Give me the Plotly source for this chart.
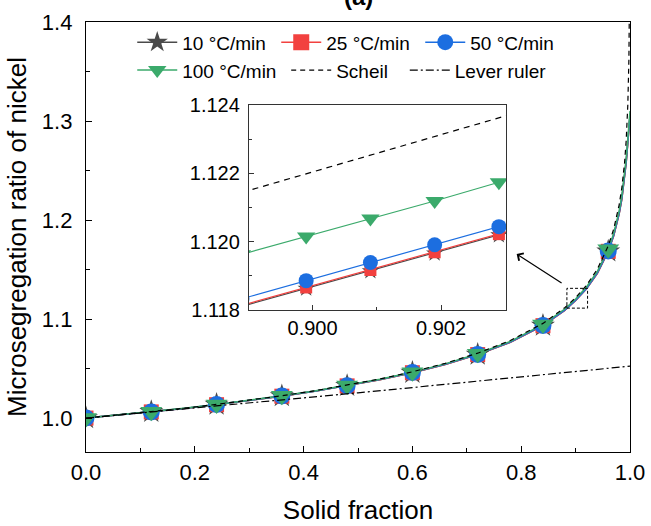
import plotly.graph_objects as go

# ---------------- data ----------------
fs_main = [0.0, 0.06, 0.12, 0.18, 0.24, 0.30, 0.36, 0.42, 0.48, 0.54, 0.60, 0.66,
           0.72, 0.78, 0.84, 0.88, 0.90, 0.92, 0.94, 0.96, 0.97, 0.98, 0.985,
           0.99, 0.993, 0.996, 0.998, 1.0]
r_10 = [1.0, 1.0030, 1.0062, 1.0097, 1.0135, 1.0176, 1.0221, 1.0270, 1.0325, 1.0387,
        1.0458, 1.0541, 1.0641, 1.0765, 1.0933, 1.1087, 1.1187, 1.1306, 1.1462,
        1.1683, 1.1840, 1.2060, 1.2210, 1.2420, 1.2580, 1.2780, 1.2920, 1.3050]
r_25 = [1.0, 1.0030, 1.0062, 1.0097, 1.0135, 1.0176, 1.0221, 1.0270, 1.0325, 1.0387,
        1.0458, 1.0541, 1.0641, 1.0765, 1.0933, 1.1087, 1.1187, 1.1306, 1.1462,
        1.1684, 1.1841, 1.2062, 1.2212, 1.2422, 1.2582, 1.2782, 1.2922, 1.3052]
r_50 = [1.0, 1.0030, 1.0062, 1.0097, 1.0136, 1.0177, 1.0222, 1.0271, 1.0326, 1.0388,
        1.0459, 1.0542, 1.0643, 1.0767, 1.0935, 1.1089, 1.1189, 1.1309, 1.1466,
        1.1688, 1.1846, 1.2068, 1.2220, 1.2430, 1.2590, 1.2790, 1.2930, 1.3060]
r_100 = [1.0, 1.0031, 1.0063, 1.0098, 1.0137, 1.0178, 1.0224, 1.0273, 1.0329, 1.0391,
         1.0463, 1.0547, 1.0649, 1.0775, 1.0946, 1.1101, 1.1202, 1.1323, 1.1482,
         1.1705, 1.1865, 1.2090, 1.2245, 1.2460, 1.2620, 1.2820, 1.2960, 1.3100]
fs_marks = [0.0, 0.12, 0.24, 0.36, 0.48, 0.60, 0.72, 0.84, 0.96]

fs_scheil = [0.0, 0.06, 0.12, 0.18, 0.24, 0.30, 0.36, 0.42, 0.48, 0.54, 0.60, 0.66,
             0.72, 0.78, 0.84, 0.88, 0.90, 0.92, 0.94, 0.96, 0.97, 0.98, 0.985,
             0.99, 0.993, 0.996, 0.998, 0.999, 0.9995]
r_scheil = [1.0, 1.0031, 1.0064, 1.0099, 1.0138, 1.0179, 1.0225, 1.0275, 1.0331, 1.0394,
            1.0467, 1.0552, 1.0655, 1.0783, 1.0956, 1.1114, 1.1215, 1.1340, 1.1504,
            1.1739, 1.1908, 1.2151, 1.2326, 1.2578, 1.2803, 1.3165, 1.3627, 1.4106, 1.4600]

fs_lever = [0.0, 0.1, 0.2, 0.3, 0.4, 0.5, 0.6, 0.7, 0.8, 0.9, 1.0]
r_lever = [1.0, 1.0050, 1.0101, 1.0152, 1.0203, 1.0255, 1.0308, 1.0361, 1.0415, 1.0469, 1.0524]

# inset (zoom near fs = 0.9)
fs_inset = [0.8989, 0.8999, 0.9009, 0.9019, 0.9029, 0.9039]
i_10 = [1.11811, 1.11863, 1.11914, 1.11966, 1.12019, 1.12072]
i_25 = [1.11814, 1.11866, 1.11917, 1.11969, 1.12022, 1.12075]
i_50 = [1.11833, 1.11886, 1.11939, 1.11991, 1.12044, 1.12097]
i_100 = [1.11963, 1.12015, 1.12068, 1.12119, 1.12174, 1.12227]
i_scheil = [1.12144, 1.12199, 1.12253, 1.12308, 1.12362, 1.12417]

inset_x_range = [0.89901, 0.90301]
inset_y_range = [1.118, 1.124]
zoom_box_x = [0.884, 0.922]
zoom_box_y = [1.111, 1.131]
arrow_head = (0.7917, 1.1657)
arrow_tail = (0.877, 1.1354)

names = ["10 °C/min", "25 °C/min", "50 °C/min", "100 °C/min"]
colors = ["#4a4a4a", "#F2413F", "#1C6EE0", "#3BAA6B"]
symbols = ["star", "square", "circle", "triangle-down"]
main_sizes = [18, 15, 17, 19]
inset_sizes = [13, 12, 15, 16]
main_series = [r_10, r_25, r_50, r_100]
inset_series = [i_10, i_25, i_50, i_100]

FONT = "Liberation Sans, Arial, sans-serif"

fig = go.Figure()

mark_idx = [fs_main.index(v) for v in fs_marks]

# main lines
for ys, c in zip(main_series, colors):
    fig.add_trace(go.Scatter(x=fs_main, y=ys, mode="lines", line=dict(color=c, width=1.5),
                             showlegend=False, hoverinfo="skip"))
# main markers
for ys, c, s, sz in zip(main_series, colors, symbols, main_sizes):
    fig.add_trace(go.Scatter(x=fs_marks, y=[ys[i] for i in mark_idx], mode="markers",
                             marker=dict(color=c, symbol=s, size=sz, line=dict(width=0)),
                             showlegend=False))
# Scheil and lever
fig.add_trace(go.Scatter(x=fs_scheil, y=r_scheil, mode="lines",
                         line=dict(color="black", width=1.2, dash="5px,4px"),
                         showlegend=False))
fig.add_trace(go.Scatter(x=fs_lever, y=r_lever, mode="lines",
                         line=dict(color="black", width=1.2, dash="8px,3px,2px,3px"),
                         showlegend=False))

# inset traces
for ys, c, s, sz in zip(inset_series, colors, symbols, inset_sizes):
    fig.add_trace(go.Scatter(x=fs_inset, y=ys, mode="lines+markers", xaxis="x2", yaxis="y2",
                             line=dict(color=c, width=1.2),
                             marker=dict(color=c, symbol=s, size=sz, line=dict(width=0)),
                             showlegend=False))
fig.add_trace(go.Scatter(x=fs_inset, y=i_scheil, mode="lines", xaxis="x2", yaxis="y2",
                         line=dict(color="black", width=1.2, dash="6px,5px"), showlegend=False))

# legend entries
legend_ids = ["legend", "legend", "legend", "legend2"]
for n, c, s, lg in zip(names, colors, symbols, legend_ids):
    fig.add_trace(go.Scatter(x=[None], y=[None], mode="lines+markers", name=n, legend=lg,
                             line=dict(color=c, width=1.5),
                             marker=dict(color=c, symbol=s, size=16, line=dict(width=0))))
fig.add_trace(go.Scatter(x=[None], y=[None], mode="lines", name="Scheil", legend="legend3",
                         line=dict(color="black", width=1.2, dash="5px,4px")))
fig.add_trace(go.Scatter(x=[None], y=[None], mode="lines", name="Lever ruler", legend="legend4",
                         line=dict(color="black", width=1.2, dash="8px,3px,2px,3px")))

leg_common = dict(orientation="h", bgcolor="rgba(0,0,0,0)", borderwidth=0,
                  font=dict(family=FONT, size=19, color="black"),
                  itemwidth=40, xanchor="left", yanchor="top", tracegroupgap=0)

row1_y = 0.997
row2_y = 0.932

fig.update_layout(
    width=651, height=526,
    margin=dict(l=86, r=21, t=22, b=74),
    paper_bgcolor="white", plot_bgcolor="white",
    font=dict(family=FONT, color="black"),
    legend=dict(**leg_common, x=0.085, y=row1_y, entrywidth=89, entrywidthmode="pixels"),
    legend2=dict(**leg_common, x=0.085, y=row2_y),
    legend3=dict(**leg_common, x=0.368, y=row2_y),
    legend4=dict(**leg_common, x=0.586, y=row2_y),
    xaxis=dict(range=[0, 1], dtick=0.2, tickformat=".1f", showline=True, mirror=True,
               linecolor="black", linewidth=1.3, ticks="inside", ticklen=6, tickwidth=1.2,
               tickcolor="black", minor=dict(dtick=0.1, ticks="inside", ticklen=4, tickcolor="black"),
               showgrid=False, zeroline=False, tickfont=dict(size=22), ticklabelstandoff=0,
               automargin=False,
               title=dict(text="Solid fraction", font=dict(size=26), standoff=17)),
    yaxis=dict(range=[0.9657, 1.4], dtick=0.1, tickformat=".1f", showline=True, mirror=True,
               linecolor="black", linewidth=1.3, ticks="inside", ticklen=6, tickwidth=1.2,
               tickcolor="black", minor=dict(dtick=0.05, ticks="inside", ticklen=4, tickcolor="black"),
               showgrid=False, zeroline=False, tickfont=dict(size=22), ticklabelstandoff=8,
               automargin=False,
               title=dict(text="Microsegregation ratio of nickel", font=dict(size=26), standoff=7)),
    xaxis2=dict(domain=[0.2996, 0.772], anchor="y2", range=inset_x_range,
                tickvals=[0.900, 0.902], tickformat=".3f", showline=True, mirror=True,
                linecolor="#333333", linewidth=1.2, ticks="inside", ticklen=5, tickcolor="#333333",
                minor=dict(tickvals=[0.901], ticks="inside", ticklen=3, tickcolor="#333333"),
                showgrid=False, zeroline=False, tickfont=dict(size=20), ticklabelstandoff=0,
                automargin=False),
    yaxis2=dict(domain=[0.3302, 0.807], anchor="x2", range=inset_y_range,
                tickvals=[1.118, 1.120, 1.122, 1.124], tickformat=".3f", showline=True, mirror=True,
                linecolor="#333333", linewidth=1.2, ticks="inside", ticklen=5, tickcolor="#333333",
                minor=dict(tickvals=[1.119, 1.121, 1.123], ticks="inside", ticklen=3, tickcolor="#333333"),
                showgrid=False, zeroline=False, tickfont=dict(size=20), ticklabelstandoff=4,
                automargin=False),
)

fig.add_shape(type="rect", xref="x", yref="y", x0=zoom_box_x[0], x1=zoom_box_x[1],
              y0=zoom_box_y[0], y1=zoom_box_y[1], line=dict(color="black", width=1, dash="3px,2px"))
fig.add_annotation(x=arrow_head[0], y=arrow_head[1], ax=arrow_tail[0], ay=arrow_tail[1],
                   xref="x", yref="y", axref="x", ayref="y", showarrow=True, text="",
                   arrowhead=4, arrowsize=1.4, arrowwidth=1.2, arrowcolor="black")
fig.add_annotation(x=0.5, y=1, xref="paper", yref="paper", yanchor="bottom", yshift=10,
                   text="<b>(a)</b>", showarrow=False, font=dict(size=24, color="black"))

# remove the page's default body margin so the figure sits at the window's corner
fig.write_html("out.html", config={"displayModeBar": False},
               post_script="document.body.style.margin='0';")
